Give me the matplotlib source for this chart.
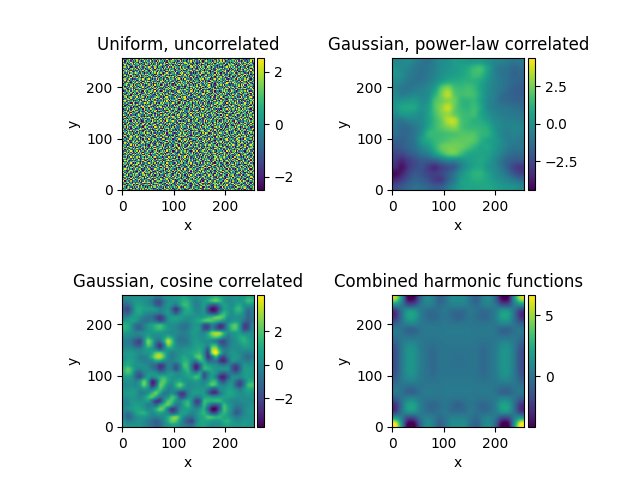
import matplotlib
matplotlib.use('Agg')
import matplotlib.pyplot as plt
import numpy as np

titles = ['Uniform, uncorrelated', 'Gaussian, power-law correlated',
          'Gaussian, cosine correlated', 'Combined harmonic functions']

# uncorrelated field, one digit per cell (0 = -2.45 ... 9 = 2.45), top row first
uniform_rows = [
    '5637291846 4725360918 6351847296 3574610829 7462538190 5283746091 6947325180 4816572936 3752960481 6274183505 9364725108',
    '7241569308 5693174825 2846093571 6718253940 3195746820 8462071359 5327918640 7053648129 4691825703 2587364196 6130452879',
    '3905847162 6182750394 7539416208 2964705183 5874360291 6150483927 2736195048 9452603718 6281970354 7463829150 3825164907',
    '6418273950 4730968215 1864527390 7435192068 4620815739 3796254801 8514037262 5367291845 1978346520 6049253781 7294038615',
    '2856037491 9374250618 5629081473 6051483927 8375926140 4289716350 6403582971 3172846059 7645109382 5830716294 4157692830',
    '7394610582 3568147209 8725360491 4192786053 5604273918 7431869205 5928370146 8016429573 4253681097 6794105328 2680439571',
    '4160875329 7241593680 3406918752 5873260419 6928415037 1357640928 7260951834 6493872510 5381720649 7462390185 9317850264',
    '5783294016 6029375148 4597213860 7640358291 3182764590 6745103892 4816293750 2975068341 6120547938 3859241706 5428106793',
    '8236140795 4915837260 6372850914 1548092736 7450926183 2938614507 5306728491 7164380295 4682913570 5073684219 6741925038',
    '3942705681 7380561492 2159734068 6827541309 4361087259 5690274318 8241953706 3587062149 7935126480 4618390527 2096437815',
    '6079582134 5126473908 8403962571 3716205849 5982143670 7013586924 2697418305 4520873196 6348759102 8175230469 5263781904',
    '1758364920 2849036157 5617294830 9354780162 6237095418 4862751390 7135026948 6920413875 3461589207 5792648031 4036925187',
    '4825190673 6973218405 3260574819 7482036951 1564920387 9327685140 5048329761 2781565093 8406317295 6259103748 7514208369',
    '7360248951 3051864729 7946315028 5206197483 8743625109 6190438257 3572894016 6135274908 4927860351 1384752960 2695837041',
    '2493706185 8624590371 4178250693 6539871240 3025716894 5487092136 6814370259 9062548713 7316925480 4756083129 5908142637',
    '5612837094 4307192568 6825943107 1073462985 7691584023 2758360941 4936107582 3247185069 5681394720 6902471385 8137260549',
    '8047325916 7592640183 3051728694 4618235079 2360917845 6814573290 7205638419 5796024138 1483750296 3524916807 6470385291',
    '3785169402 1246873950 5793406281 8256049317 4572186930 7093425168 2341786905 6850317924 7962548103 5168209473 4283971056',
    '6291470538 5803921746 2610587439 7349160825 9635270184 4127895360 8564092371 3419752608 4075163829 7826354190 1597604283',
    '4530896172 7164285039 4982751360 3097824516 5128403769 6359170842 1675439280 7201896345 6832945017 2468531709 9340716825',
    '7816342059 3495710826 6304192857 5671083492 4790635218 2846517039 5932081674 4698307251 5073421986 8195726340 3762095148',
    '2058937461 6723084195 9576340218 1824759360 6301582947 7469123805 3047865192 8513264079 2764158930 4039682517 6587129403',
    '5369412780 8147639250 2485170936 6703924185 7216049583 5932871460 6180495327 4695072138 7382906541 1526374809 4910835762',
    '6704281935 3920576841 7613859042 4289513706 3857960124 1304682975 4593217860 2876140593 6023581497 5740163928 8261497350',
    '1843725690 6358014927 5049286371 8635170294 5490273168 6718520439 7264938051 5197326084 4851607329 3692478105 7306582914',
    '4692058371 2576983140 3762405918 5120647839 7368941250 4037852916 2915403768 6840759123 1347258960 6218035749 5794213680',
    '7358106492 9014625738 6821593074 3946207581 2581730496 7692154380 5678029143 3205417869 7569382410 4861790253 2130657498',
    '3027649185 5483271096 4175862903 7402958316 6014529837 3258641970 8340761295 6971238054 5028694713 1973402568 6482950137',
    '5961473820 7628130459 1349706285 6578140329 4725306981 9160437528 4293856071 2486509137 3716049582 8540326791 7053186924',
    '8240367519 3705962148 6590248371 2863915704 5983172460 6725804193 3517426980 7913065824 6482917305 4065293178 1378462095',
    '2716958043 6149305782 7238451096 4190763852 3406827519 5871349206 6280134957 4052786391 1953768240 7392685410 5846019273',
    '6485231097 4860719325 2974613508 5347280169 7532091684 2136498075 9742560318 5618329047 8267340195 1706952483 3920574168',
    '3179046852 5291637840 8053142697 7615028934 6247915308 4890723561 1368905472 7340592186 4195027638 6583471209 2647138950',
    '7524860931 1937485206 3461758920 6092384751 5130674982 7586243019 4923176805 2671854390 3708962145 5214038796 6089357412',
    '4063798215 6752014938 5620937184 2738145690 8453796021 3694108527 6015249783 9345670128 5841263079 7926815304 1370426859',
    '5896132470 3148260759 7092586341 4526073918 1679352840 6402971358 3758160294 4836207915 2093574618 6751349280 4127680593',
    '1270495683 8463597102 2845016973 6357291840 7024586139 5761304928 8192643705 6509481327 7365812049 3480729156 5916024738',
    '6738524019 5013762498 4961273805 1084936572 3596172048 2918645703 5370826194 7124053689 4687230951 8256917340 2495361807',
    '3451067928 7295834160 6130785249 7569410382 5841203796 6037592418 2465097183 8351742960 6972415038 1043685729 7680219354',
    '8902613547 4671029385 3586942170 2743658091 6219074835 4175832609 7036481529 1562983047 5428036719 7295104863 3856472091',
    '5127486390 2306758914 7495130628 6980215473 4327869150 9561043728 3682714950 6043925718 2716589430 4975360182 6341208975',
    '2684759031 6542910873 1607384259 5392761804 7150436298 3286704519 6814593072 5270138496 7943260185 3618452907 4085797326',
    '7043926158 3871256094 5729846301 4135097682 2964875013 6750219384 4326058917 8617492305 1305746928 5286193740 9472651083',
    '4516308297 9125467380 4360285791 7862314059 5207691438 1843567209 5792036148 3458217690 6084935271 7163042859 2739685410',
    '6379145820 5684073129 8253671940 3017542968 6438102597 7924586130 2640719385 4973156802 5627481039 3051928476 8346072195',
    '1825693074 3740198562 6917024385 5496830217 7382564091 4061273958 6189354720 7503846291 3241067598 6829513740 4570291863',
    '5340781926 6218537490 2498716053 7601259384 1953840762 5637029184 3820571469 2165938407 8794520163 4206379815 6953148702',
    '7962408153 4059762318 5734068291 3182695740 6410739825 2785146903 7246093815 5931684720 4608273951 1375960248 3062817549',
    '3208154679 7836941205 3051879462 6524703189 4896127530 7913065482 5678214903 8042357169 6395148027 5714082396 2481639705',
    '4691573820 2361084759 6892403517 7045318692 5287436901 3160754298 1935687240 4716092385 5230786914 9586213740 7824051936',
    '8513046297 5174928360 4257130968 2690584731 3647905182 6829431570 7084562139 6351740928 4973126850 2048356197 6159472083',
    '2076938451 6405812379 7128596340 4935071862 8104362795 5271689043 4593207186 2768914530 7316048259 5843620719 1392567048',
    '5748261093 3927640185 1654093728 6381720945 6795418203 4036297185 3870564291 9147235608 5028367491 7610984325 4263719586',
    '6135097428 8290573146 3472986015 5718269304 2463510978 7964012358 5129846370 6283405917 1749360825 4571928063 3086245197',
    '3924780561 4653701892 5906731248 7043182569 5816923407 1390568274 6250749183 3764901528 7492516038 2865034179 6718352904',
    '7406815239 1578246903 8630547912 2695410738 7340285196 6823145709 4912376058 5048273916 3651708294 6039482751 5294107368',
    '1583629740 6394058127 2187469350 5364728091 4027916538 3751984260 8635420917 7190583246 4827365109 5203617948 3746091825',
    '4270953186 5846132079 6723150984 3928074651 6180752349 4562390781 2047391568 5836102794 6915470238 7461928503 2958736014',
    '5632718049 7015394826 4095827316 6510347892 2976153480 8304176295 7523648109 1469825037 3280915746 4678023915 6107345289',
    '8917540362 3264897510 7351402698 4286915073 5734026189 2156930478 6980417523 6347281950 5706418329 3952164807 7480326591',
    '2340685917 6579123048 5842960137 1603758294 6915407328 7483269015 3265178904 4790352861 9134062758 6528017493 3861975420',
    '6859172304 4806375192 3615297480 7934026581 3058691724 5710824396 4891035762 2576914083 5263748910 4139682075 7502148936',
    '4072396581 5138264790 6974083152 5243719068 7820135496 1957463280 6324570819 8701395246 3984621750 6057832419 2613590748',
    '7513849260 2970615348 1428356907 6085297134 4637502981 3690258174 5148702369 4326185907 7045396182 5781240963 8934267105',
    '3695024718 8463751029 5730842196 4718963250 5109284763 6275841039 2796513840 5084972316 6852103749 1426379580 4370915682',
    '5248106973 6097238451 7269510384 3541728906 2856401397 7938016452 4603189275 7516342098 1923847605 6370594218 7691205834',
    '1906735842 4381602795 4826175039 7690243518 6493178520 5012463789 8371956402 3265409187 5684720391 3028615947 4156873209',
    '8361429705 5724916083 3094268751 5218970346 4702563981 2687390154 6549021738 4190786325 7306258914 6742189503 2095346718',
    '4725890136 7160348259 6513729480 2843016975 7356108249 6491725830 1072864593 6923851074 3458107962 5081473926 6839520147',
    '6041583279 3295617804 2784095163 6175843092 5924736018 3806947215 7364520981 8145036297 2791654308 4368209715 5172496380',
    '2397164058 5836027941 7950362418 4306189725 1642897350 7259310846 5418376092 3602758419 6480913275 7516324809 9245083176',
    '5182906743 6470139582 3461825079 5932476108 8065321794 4173650928 2896401537 7534962081 4127368590 2953107486 6708412593',
    '7654023918 1928754360 5306971248 7149083265 3517694082 6824059173 4071285369 5289364710 8360541729 6497215830 3184027965',
    '3470985126 4583206791 8215647930 2678350419 6209478135 5730296841 9683154207 1056742893 5792186034 3814069527 7265931480',
    '6923517840 7014628395 4729083156 5461932708 4385106927 2916875340 6347290518 4871520369 3046897215 5728034196 1490362785',
    '1578340629 5296473180 6053218974 3890746152 7542801936 6097354218 2418965073 7362041985 6915328470 4283659701 5630197842',
    '4806269315 3745109268 2187465093 6723510849 5169283470 8340127596 5726031894 6095843127 2748016395 7530641829 3942786150',
    '7132845960 6480925713 5936204781 4058371926 3701694258 4582761039 7190346825 2813579406 6451720938 1376908254 5206849317',
    '5394607281 2819573046 7640132859 5286749013 6824350179 3175946280 4638012597 9560237148 3297485061 6048213579 4813572690',
    '2618593704 4067281935 3471958620 7913620485 4097512638 6258037491 8024796315 5173468920 7620594183 4981736025 6375940281',
    '8045732169 5932746108 6810253497 2364091875 5738264901 1406952783 3561807249 6749023518 4058392671 7315286904 2796104538',
    '3769128450 7146305892 4592076318 6185937420 7021634895 5389071624 6712459083 3280617954 5934271806 2640587913 8153276049',
    '6427051938 2385914607 1375806942 5740263198 3859146072 7490628135 4937160582 8216340795 1763894520 6509827431 4072965381',
    '4983267150 6570132849 7926485031 3048157926 6512098374 2935748160 5180293647 6427015938 3582674190 5391048762 7348160925',
    '1250786394 8429603517 5063728194 6971352480 2486735091 6081259473 7345920816 4850163729 7196052348 3827410965 5603298174',
    '7396840215 3158726940 2847096513 4526013897 7903516428 5724068391 2063785149 5791236804 6048317925 4276598031 6914735082',
    '5042913678 6734205189 6105387249 7280964315 3147852609 3860197542 6498523170 3325079186 5279014683 7018436259 2835601947',
    '2867154930 4079518326 4396271805 1853740962 6620391578 7052483916 5137609284 4963821057 3714586029 1640957382 6187349250',
    '6571408329 5890362147 7215860394 5307948162 4815627903 2469350718 8706142359 2348517960 6950382471 5893724016 3402596871',
    '3714926085 2643971580 3568029174 6421573908 7394085126 6138729045 1957034682 7620498135 4835169207 6042831579 7168250493',
    '8209635417 7015486392 5827140693 3694281750 5063279481 4710586239 6324857910 5197063482 2706418359 3589124760 4931706285',
    '4536071892 6382149705 1940756238 7108325964 2958614037 8523694170 3476015298 6802374159 5371902846 7145860392 5280643917',
    '1697382504 3954870216 6483012975 5276490183 7641308529 3095127846 5812649730 4039518627 8264573091 2813069457 6725491038',
    '5840216973 7526194038 2719638450 4853061729 3182745960 6570418293 7036982514 2961483075 4690137825 5372648109 1469207583',
    '7263059481 4108735296 5374920168 6015284397 6509217384 1846359072 4725180936 5680347219 3158926740 6947013582 3086472915',
    '2915487360 6347205918 7681043529 3927568104 4853096127 7238610495 5069423781 7514096382 6820375194 1736254908 5204186739',
    '6380724159 5792163840 3250871946 5186340279 7206483915 4951726038 2683957401 3847251096 5094713628 4562089731 7439612058',
    '4157903628 2864051793 8415926037 7043219586 5318760492 3607182945 6924015378 1296730854 7315864092 6780435129 2053897416',
    '8692315047 7430985126 5937041268 2658103749 6092473581 5741069328 3158724960 6480593217 4267901583 3195274680 5826340971',
    '3046578291 6125347809 4062895731 6710492385 2734915860 8265103794 7519036482 5346872109 1792640358 5908631472 4671025893',
    '5728140936 3961582704 1794603285 5482037916 5147968320 3680427519 4073592186 7231895640 6453210987 2846059731 7315946028',
    '1483267059 7058913426 6528130974 3096574821 7823051496 4519628307 6945870213 4820653179 8037549162 5361247908 4207836915',
    '6905732814 4627081395 3740296158 7861325490 4596102738 7102395864 2368714059 5079431826 3562087941 6184350792 3972106548',
    '2374891506 5143620987 6893172540 4105768239 3680429175 5847016392 8145207963 6392814705 2705946318 7043218569 5619483027',
    '7560128349 8396745201 2415063897 6237410958 7921538604 1269473058 5730896124 3406158792 4918306257 3790652184 6028475193',
    '4218356790 2605931478 7682940315 5970326184 5063182479 6730954218 2584069371 7163520849 6357082941 5129476830 3841960725',
    '5971043682 6478129053 3510468729 2849735106 4176209583 8413572069 6207341895 4985103726 1283764905 7640893152 9534018276',
    '3840695217 1729358460 5063917824 7426180593 6538471920 2095763184 5362498017 3617240958 7409158362 5216039748 4785120639',
    '6152784903 4085263719 8276340159 3561097248 2904516873 7348620591 4871503296 6790241385 5036827194 3461985027 1693742058',
    '2769510348 7346091825 1938672450 6018543972 7250368194 5601429837 3046895172 2538716409 6842093517 4975163280 6207384159',
]

# power-law field, top row first
powerlaw_rows = [
    [-0.3, -0.3, -0.2, -0.6, -1.0, -1.1, -0.6, -0.2, 0.0, 0.4, 0.4, 0.3, 0.4, 0.4, 0.0, -0.4, -0.5, -0.8, -1.0, -0.9],
    [0.0, -0.3, -0.5, -0.9, -1.1, -1.0, -0.6, -0.1, 0.1, 0.4, 0.6, 0.9, 1.5, 1.6, 0.6, -0.5, -1.0, -1.1, -1.5, -1.3],
    [0.1, -0.2, -0.7, -1.0, -1.2, -0.9, -0.5, 0.0, 0.3, 0.5, 0.7, 1.1, 1.6, 1.4, 0.4, -0.5, -1.0, -1.2, -1.6, -1.5],
    [-0.2, -0.5, -0.9, -1.1, -1.0, -0.7, -0.2, 0.4, 0.9, 1.0, 1.1, 1.2, 1.2, 0.8, 0.1, -0.5, -0.9, -1.2, -1.5, -1.6],
    [-0.5, -0.9, -1.0, -0.8, -0.6, -0.3, 0.4, 2.0, 2.6, 1.7, 1.5, 1.7, 1.4, 0.6, -0.1, -0.6, -0.9, -1.3, -1.7, -1.8],
    [-0.3, -0.7, -0.6, -0.3, -0.4, -0.1, 1.1, 2.5, 3.4, 2.1, 1.7, 1.8, 1.6, 0.7, -0.2, -0.6, -1.2, -1.5, -1.7, -1.8],
    [0.0, 0.1, 0.3, 0.3, -0.1, 0.2, 1.8, 2.4, 2.8, 2.4, 1.4, 1.3, 1.4, 0.6, -0.3, -0.7, -1.3, -1.4, -1.6, -1.6],
    [0.2, 0.7, 0.8, 0.7, 0.1, 0.5, 1.9, 2.8, 3.6, 2.3, 1.5, 1.3, 1.6, 0.8, -0.3, -0.7, -0.9, -1.0, -1.2, -1.3],
    [-0.2, 0.2, 0.3, 0.1, -0.1, 0.6, 1.7, 2.6, 3.0, 2.3, 1.7, 1.5, 1.6, 0.7, 0.1, -0.4, -0.7, -0.8, -0.9, -1.0],
    [-0.8, -1.0, -0.6, -0.4, -0.2, 0.5, 1.5, 2.3, 3.4, 3.4, 1.9, 1.5, 1.2, 1.0, 0.5, -0.1, -0.4, -0.6, -0.6, -0.7],
    [-1.1, -1.4, -1.3, -0.9, -0.3, 0.7, 1.5, 2.1, 2.6, 2.8, 1.9, 1.5, 1.4, 1.3, 1.0, 0.2, -0.3, -0.5, -0.4, -0.5],
    [-1.2, -1.5, -1.4, -0.9, 0.0, 1.3, 1.5, 1.6, 1.8, 1.9, 2.0, 2.0, 1.9, 1.4, 1.2, 0.4, -0.3, -0.7, -0.5, -0.6],
    [-1.7, -1.7, -1.4, -0.9, 0.3, 0.9, 1.4, 1.7, 2.0, 2.2, 2.2, 2.2, 2.0, 1.2, 0.7, 0.4, -0.1, -0.6, -0.7, -0.9],
    [-2.1, -1.9, -1.5, -1.1, -0.3, 0.3, 1.2, 2.2, 2.5, 2.5, 2.3, 1.9, 1.3, 0.8, 0.8, 0.3, -0.2, -0.7, -1.0, -1.0],
    [-2.6, -2.5, -2.0, -1.6, -1.0, -0.6, 0.4, 1.4, 2.2, 2.3, 1.6, 0.9, 0.7, 0.7, 0.6, 0.1, -0.5, -1.1, -1.4, -1.4],
    [-3.0, -3.4, -2.8, -2.3, -1.9, -1.8, -1.6, -1.0, -0.4, -0.3, 0.0, 0.4, 0.6, 0.8, 0.4, -0.2, -1.0, -1.6, -1.9, -2.0],
    [-3.4, -4.0, -3.0, -2.4, -2.2, -2.8, -3.3, -2.6, -2.2, -1.8, -0.6, 0.2, 0.7, 0.8, 0.2, -0.2, -0.9, -1.7, -2.6, -3.0],
    [-4.2, -3.6, -2.6, -2.0, -2.2, -2.6, -2.8, -2.5, -1.9, -1.0, 0.0, 0.7, 1.2, 1.2, 0.6, 0.0, -0.5, -1.2, -2.1, -2.6],
    [-3.4, -2.8, -2.1, -1.6, -1.8, -2.2, -2.8, -2.8, -1.7, -0.8, 0.4, 0.7, 1.0, 1.0, 0.7, 0.3, -0.1, -0.4, -0.9, -1.3],
    [-2.4, -2.0, -1.5, -1.2, -1.3, -1.6, -1.9, -1.8, -1.0, -0.2, 0.5, 0.7, 0.7, 0.8, 0.8, 0.6, 0.3, 0.1, 0.0, -0.4],
]

# cosine correlated field, top row first
cosine_rows = [
    [.1, .1, .1, .2, .2, .1, .1, .0, -.5, -.5, .0, .2, .2, .3, .4, .6, .4, .1, .0, .1, .2, .4, .7, 1.0, .7, .3, .1, .1, .2, .2, .3, .8, .7],
    [-.3, -.2, .1, .3, .3, .2, .0, -.4, -1.1, -1.2, -.4, .1, .2, .2, .5, .9, .8, .2, -.2, .1, .4, .7, 1.2, 1.5, 1.1, .4, .1, .1, .3, .3, .5, 1.1, 1.0],
    [-.8, -.8, -.2, .4, .5, .3, .1, -.2, -.9, -1.0, -.3, .2, .0, -.4, .4, 1.1, 1.0, .3, -.2, .0, .4, -.4, -1.0, -1.0, -.1, .5, .3, .1, .5, .7, .2, .3, .3],
    [-1.2, -1.4, -.5, .5, .7, .5, .4, .4, .2, -.2, .0, .2, -.7, -1.7, -.7, .5, .8, .4, -.1, .0, .2, -1.3, -2.4, -2.1, -.8, .4, .3, .2, .9, 1.0, .2, -.5, -.3],
    [-.8, -.9, -.2, .5, .6, .2, .0, -.1, -.2, -.4, .0, .3, -.3, -1.0, -.2, .5, .6, .4, .1, .1, .2, -.7, -1.4, -1.3, .2, 1.0, .5, .1, .6, .6, .0, -.8, -.4],
    [-.3, -.1, .3, .4, .1, -.3, -.5, -.6, -1.2, -1.6, -1.0, .1, .4, .4, .4, .3, .2, .2, .3, .3, .5, .8, 1.0, 1.5, 1.6, 1.2, .2, .1, .2, .1, -.2, -.8, -.5],
    [.3, .4, .5, .3, -.2, -.5, -.5, -.3, -.7, -1.2, -.8, .1, .4, .4, .2, .0, .0, .2, .5, .8, 1.2, 1.4, 1.3, 1.0, .6, .2, -.1, .2, .4, .1, -.6, -1.0, -.5],
    [.9, .7, .1, -.6, -.7, -.3, .2, .5, .9, 1.1, .7, .2, .1, .0, -.3, -.5, -.4, .1, .3, .1, -1.1, -1.2, -.3, -.8, -1.7, -1.2, .2, 1.2, 1.4, .2, -1.4, -1.4, -.3],
    [.9, .7, .1, -.6, -.8, -.3, .2, .5, .9, 1.1, .7, .3, .1, .0, -.3, -.5, -.3, .2, .4, .1, -1.2, -1.2, -.1, -.7, -1.3, -.9, .2, 1.2, 1.3, .2, -1.3, -1.2, -.2],
    [.4, .3, .1, -.1, .0, .1, .3, .3, .3, .3, .2, .1, .0, .0, -.2, -.3, -.1, .3, .3, .1, -.1, .6, 1.8, 2.2, 2.0, .9, .1, .3, .4, .4, -.1, .0, .1],
    [.0, .0, -.2, -.4, -.5, .1, .8, .3, .0, .0, .4, 1.0, .6, -.1, -.4, -.4, -.2, .2, .3, .2, .2, .6, 1.2, 1.5, 1.0, .1, -.4, .1, .3, .7, .8, .4, .2],
    [-.3, -.3, -.6, -1.2, -1.5, .0, 1.7, 1.0, -.3, -.5, .7, 2.3, 1.4, .0, -.5, -.5, -.3, .2, .4, .3, .1, .1, .0, -.4, -1.1, -1.3, -.6, -.1, .2, .6, .9, .6, .3],
    [-.3, -.2, -.5, -1.0, -1.1, .0, 1.4, .8, -.8, -1.7, -.3, 1.7, 1.1, .1, -.2, -.2, -.1, .2, .5, .5, .3, .0, .9, .9, -.6, -1.0, -.5, .0, .1, .3, .6, .5, .3],
    [.0, .1, .0, -.2, -.2, .2, .5, .3, -.3, -1.0, -.2, .5, .4, .2, .1, .2, .3, .4, .6, .7, .2, -.9, 1.9, 2.2, .6, -.3, -.2, .1, .1, .1, .2, .2, .2],
    [.3, .4, .4, .2, .0, .2, .3, .7, 1.5, 1.7, 1.0, .2, -.2, .0, .2, .3, .4, .6, .9, 1.0, .0, -1.5, 1.9, 2.9, 1.1, -.3, -.1, .3, .2, .0, -.2, -.3, -.1],
    [.2, .4, .4, .2, -.2, -.2, .1, 1.0, 2.1, 2.3, 1.3, .1, -.3, .0, .3, .7, .5, .4, 1.2, 1.5, .3, -1.7, -.6, .8, -.9, -1.4, -.4, .2, .3, .1, -.4, -.7, -.4],
    [.3, .6, .5, .2, .0, -.2, -.2, .0, .6, .5, .1, -.1, -.2, .0, .4, .9, .8, .0, -.3, .8, .7, -.7, -.6, -.5, -1.6, -1.9, -.9, .2, .1, -.1, -.1, -.3, .0],
    [.6, .8, .5, .2, .2, .1, -.1, -.5, -.8, -1.6, -1.2, -.2, -.4, -1.0, -.2, 1.2, 1.0, -.6, -1.9, -.9, .7, .5, .2, .1, -.3, -.5, -.2, -.8, -1.3, -.6, .2, .2, .2],
    [1.0, 1.5, .9, .1, -.1, .1, .1, -.3, -.7, -1.5, -1.1, -.2, -.4, -1.2, -.3, .8, 1.0, -.5, -1.9, -.8, .8, .9, .6, .3, .3, .3, .2, -1.0, -1.7, -.8, .3, .4, .4],
    [.9, 1.2, .7, -.6, -.9, -.2, .2, .3, .1, -.3, -.2, .2, .3, .0, .1, .4, .8, .3, .0, .5, -.9, -.2, .5, .2, -.7, -1.0, -.5, -.5, -.8, -.3, .3, .5, .4],
    [.4, .5, .2, -.8, -1.2, -.2, .4, .0, .3, .8, 1.0, .6, .3, .2, .2, .3, .5, .7, 1.2, .7, -1.1, -.2, .4, -.3, -1.8, -2.0, -1.1, .0, .1, .0, .3, .5, .4],
    [.2, .2, .1, -.2, .3, 1.5, .4, -1.9, -1.2, 1.0, 1.5, .7, .2, .5, .7, .3, .2, .3, .5, .2, -.2, .3, 1.0, .8, -.9, -1.3, -.3, .1, -.6, -1.2, -.4, .6, .8],
    [.0, .1, .1, .0, .5, 1.6, .5, -1.8, -.9, 1.5, 1.2, .2, .0, .9, 1.6, .8, .1, .1, .2, .2, .1, .7, 1.4, 1.0, .0, -.2, .2, .3, -.9, -1.5, -.4, 1.1, 1.3],
    [.2, .2, .3, .2, .0, .4, .1, -.4, .5, 1.3, .6, -.2, -.1, .3, .4, .0, .0, .2, .3, .3, .3, -.2, -.9, -1.0, .0, .2, .5, .4, .0, -.4, .2, .7, .7],
    [.3, .4, .5, .3, -.2, -.2, .2, 1.0, 1.6, .7, -.3, -.3, .1, -.5, -1.5, -1.5, -.3, .3, .4, .4, .3, -.7, -1.7, -1.7, -.5, .2, .6, .6, .3, .1, .2, .4, .3],
    [.2, .2, .3, .2, .0, .3, 1.0, 1.4, .6, -.5, -.2, .3, 1.2, .6, -1.0, -1.1, -.1, .2, -.3, -.2, .5, .6, .3, .3, .4, .5, .5, .4, .2, .1, .1, .2, .2],
    [-.1, .0, .3, .3, .2, .3, .4, -.4, -1.6, -1.6, .0, 1.3, 1.3, .3, -.1, .5, .9, .0, -1.4, -1.1, 1.0, 1.0, .9, 1.0, 1.0, .5, .2, .0, -.1, .0, .1, .1, .1],
    [-.2, .0, .3, .5, .4, .2, -.2, -.3, -.7, .4, 1.2, 1.5, .6, -.4, -.2, .6, 1.1, .1, -.9, -.6, 1.0, .1, -1.0, -1.2, -.5, 1.1, .5, .1, -.3, -.3, -.1, .1, .2],
    [.0, .2, .4, .6, .6, .4, .0, .1, .8, 1.6, 1.2, -.4, -1.7, -1.2, .0, .4, .5, .2, -.1, .3, .8, -.8, -2.4, -2.4, -.8, 1.2, .7, .0, -.7, -.6, -.1, .2, .3],
    [-.2, -.6, -.1, .5, .8, .9, .4, .0, .3, .6, .3, -.2, -.9, -.6, .3, .5, .2, -.1, .1, .6, 1.0, .1, -1.2, -1.2, .2, 1.0, .5, -.2, -1.0, -.7, -.1, .2, .3],
    [-.3, -.8, -.5, .1, .3, .3, .1, -.2, -.3, -.1, .1, .7, 1.5, 1.8, .9, -.1, -.5, -.6, .0, .5, .8, 1.3, 1.2, .9, 1.0, .7, .5, .1, -.3, -.2, .1, .2, .2],
    [.1, -.3, -.2, .1, .2, .0, -.3, -.6, -.9, -.6, .0, .8, 1.6, 1.4, .4, -.5, -1.1, -1.4, -.2, .5, .6, .6, .4, .3, .4, .8, .9, .4, .1, .1, .3, .3, .2],
    [.3, .2, .2, .2, .2, .0, -.3, -.6, -.9, -.7, -.1, .3, .6, .5, .1, -.3, -.6, -.7, .1, .5, .6, .3, .1, .1, .2, .5, .6, .4, .3, .3, .4, .3, .2],
]

# harmonic field, top row first
harmonic_rows = [
    [5.3, 1.5, -3.8, -4.0, -.9, .9, .5, -.8, -.2, .9, 1.0, .9, -.2, -.8, .5, .9, -.9, -4.0, -3.8, 1.5, 5.3],
    [1.5, .4, -1.6, -1.6, -.1, .6, .3, -.4, .0, .5, .6, .5, .0, -.4, .3, .6, -.1, -1.6, -1.6, .4, 1.5],
    [-2.3, -.2, 1.4, 1.5, .4, -.2, -.4, -.2, .1, -.3, -.4, -.3, .1, -.2, -.4, -.2, .4, 1.5, 1.4, -.2, -2.3],
    [-2.6, -.3, 1.8, 1.9, .5, -.3, -.6, -.3, .0, -.4, -.8, -.4, .0, -.3, -.6, -.3, .5, 1.9, 1.8, -.3, -2.6],
    [-1, -.1, .7, .8, .2, .0, -.1, .0, .1, .0, -.1, .0, .1, .0, -.1, .0, .2, .8, .7, -.1, -1],
    [.1, -.1, -.7, -.7, -.1, .2, .2, .1, .2, .2, .2, .2, .2, .1, .2, .2, -.1, -.7, -.7, -.1, .1],
    [-.1, .0, -.2, -.2, .0, .1, .1, .1, .2, .2, .2, .2, .2, .1, .1, .1, .0, -.2, -.2, .0, -.1],
    [-.7, .1, .7, .7, .2, .0, -.1, .0, .1, .1, .1, .1, .1, .0, -.1, .0, .2, .7, .7, .1, -.7],
    [-1.3, .1, 1.2, 1.2, .3, -.1, -.4, -.1, .0, .0, .0, .0, .0, -.1, -.4, -.1, .3, 1.2, 1.2, .1, -1.3],
    [-1.5, .1, 1.3, 1.3, .4, -.1, -.5, -.1, .0, -.1, -.1, -.1, .0, -.1, -.5, -.1, .4, 1.3, 1.3, .1, -1.5],
    [-1.5, .1, 1.3, 1.3, .4, -.1, -.5, -.1, .0, -.1, -.1, -.1, .0, -.1, -.5, -.1, .4, 1.3, 1.3, .1, -1.5],
    [-1.5, .1, 1.3, 1.3, .4, -.1, -.5, -.1, .0, -.1, -.1, -.1, .0, -.1, -.5, -.1, .4, 1.3, 1.3, .1, -1.5],
    [-1.3, .1, 1.2, 1.2, .3, -.1, -.4, -.1, .0, .0, .0, .0, .0, -.1, -.4, -.1, .3, 1.2, 1.2, .1, -1.3],
    [-.7, .1, .7, .7, .2, .0, -.1, .0, .1, .1, .1, .1, .1, .0, -.1, .0, .2, .7, .7, .1, -.7],
    [-.1, .0, -.2, -.2, .0, .1, .1, .1, .2, .2, .2, .2, .2, .1, .1, .1, .0, -.2, -.2, .0, -.1],
    [.1, -.1, -.7, -.7, -.1, .2, .2, .1, .2, .2, .2, .2, .2, .1, .2, .2, -.1, -.7, -.7, -.1, .1],
    [-1, -.1, .7, .8, .2, .0, -.1, .0, .1, .0, -.1, .0, .1, .0, -.1, .0, .2, .8, .7, -.1, -1],
    [-2.6, -.3, 1.8, 1.9, .5, -.3, -.6, -.3, .0, -.4, -.8, -.4, .0, -.3, -.6, -.3, .5, 1.9, 1.8, -.3, -2.6],
    [-2.3, -.2, 1.4, 1.5, .4, -.2, -.4, -.2, .1, -.3, -.4, -.3, .1, -.2, -.4, -.2, .4, 1.5, 1.4, -.2, -2.3],
    [1.5, .4, -1.6, -1.6, -.1, .6, .3, -.4, .0, .5, .6, .5, .0, -.4, .3, .6, -.1, -1.6, -1.6, .4, 1.5],
    [6.6, 1.5, -4.0, -4.2, -.9, .9, .5, -.8, -.2, .9, 1.0, .9, -.2, -.8, .5, .9, -.9, -4.2, -4.0, 1.5, 6.6],
]

color_limits = [(-2.5, 2.5), (-4.43, 4.37), (-3.73, 4.15), (-4.2, 6.64)]
cbar_ticks = [[-2, 0, 2], [-2.5, 0, 2.5], [-2, 0, 2], [0, 5]]

uniform = -2.45 + np.array([[int(c) for c in row.replace(' ', '')] for row in uniform_rows]) * 4.9 / 9
# the cosine grid is on a compressed scale, bring it back to field units
cosine = np.array(cosine_rows) * 1.4
fields = [uniform, np.array(powerlaw_rows), cosine, np.array(harmonic_rows)]
smoothing = ['nearest', 'catrom', 'catrom', 'catrom']

W, H = 640, 480
# left, top of each image in pixels, and left edge of its colorbar
boxes = [(122.4, 58.4, 257.3), (392.4, 58.4, 528.0), (122.4, 295.4, 257.3), (392.4, 295.4, 528.0)]
side = 131.6

fig = plt.figure(figsize=(6.4, 4.8), dpi=100)

for i in range(4):
    left, top, bar_left = boxes[i]
    ax = fig.add_axes([left / W, 1 - (top + side) / H, side / W, side / H])
    cax = fig.add_axes([bar_left / W, 1 - (top + side) / H, 7 / W, side / H])
    im = ax.imshow(np.flipud(fields[i]), origin='lower', extent=[0, 256, 0, 256],
                   cmap='viridis', interpolation=smoothing[i],
                   vmin=color_limits[i][0], vmax=color_limits[i][1])
    ax.set_title(titles[i], fontsize=12)
    ax.set_xlabel('x')
    ax.set_ylabel('y')
    ax.set_xticks([0, 100, 200])
    ax.set_yticks([0, 100, 200])
    cbar = fig.colorbar(im, cax=cax)
    cbar.set_ticks(cbar_ticks[i])

fig.savefig('out.png', dpi=100)
